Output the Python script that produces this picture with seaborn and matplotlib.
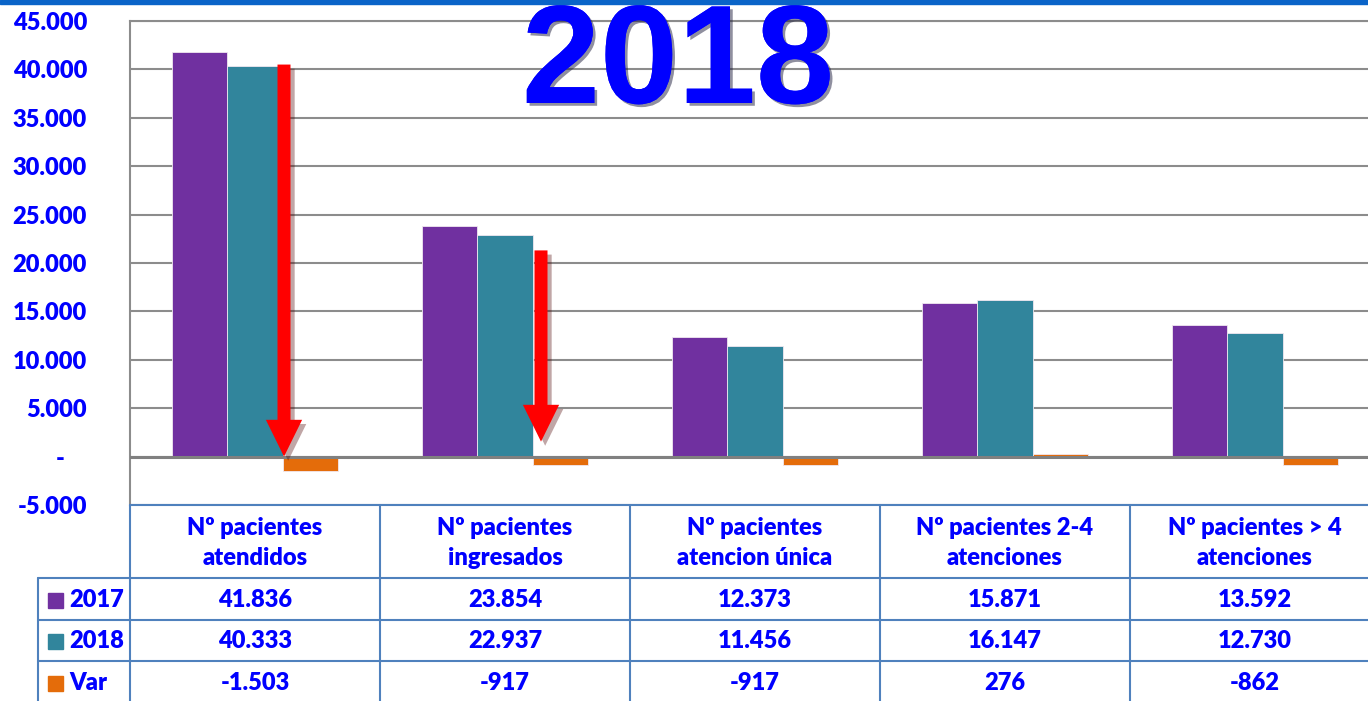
import pandas as pd
import matplotlib.pyplot as plt
import matplotlib.patheffects as pe
from matplotlib.lines import Line2D
from matplotlib.patches import Rectangle
import seaborn as sns

# Datos del gráfico
categorias = ['Nº pacientes\natendidos', 'Nº pacientes\ningresados',
              'Nº pacientes\natencion única', 'Nº pacientes 2-4\natenciones',
              'Nº pacientes > 4\natenciones']
series = ['2017', '2018', 'Var']
valores_2017 = [41836, 23854, 12373, 15871, 13592]
valores_2018 = [40333, 22937, 11456, 16147, 12730]
valores_var = [-1503, -917, -917, 276, -862]
colores = ['#7030A0', '#31859C', '#E46C0A']
ytick_vals = [-5000, 0, 5000, 10000, 15000, 20000, 25000, 30000, 35000, 40000, 45000]

df = pd.DataFrame({
    'categoria': categorias * 3,
    'serie': ['2017'] * 5 + ['2018'] * 5 + ['Var'] * 5,
    'valor': valores_2017 + valores_2018 + valores_var,
})

AZUL = '#0000FF'
BORDE = '#4F81BD'
PESO = 'heavy'
TAM = 17
W, H = 1368, 701


def fx(px):
    return px / W


def fy(py):
    return 1 - py / H


def fmt(v):
    return f'{v:,}'.replace(',', '.')


sns.set_theme(style='white')
plt.rcParams['font.family'] = ['Lato', 'DejaVu Sans']

fig = plt.figure(figsize=(W / 100, H / 100), dpi=100)
ax = fig.add_axes([fx(130), fy(505), (1380 - 130) / W, (505 - 21) / H])

sns.barplot(data=df, x='categoria', y='valor', hue='serie', order=categorias,
            hue_order=series, palette=colores, saturation=1, width=0.667, gap=0,
            edgecolor='#f0e8f0', linewidth=0.6, legend=False, ax=ax, zorder=3)

ax.set_xlim(-0.5, 4.5)
ax.set_ylim(-5000, 45000)
ax.set_yticks(ytick_vals)
ax.set_yticklabels([fmt(v) if v != 0 else '-    ' for v in ytick_vals])
ax.set_xlabel('')
ax.set_ylabel('')
ax.tick_params(axis='x', labelbottom=False, length=0)
ax.tick_params(axis='y', length=0, pad=31, labelsize=TAM, labelcolor=AZUL)
for lbl in ax.get_yticklabels():
    lbl.set_fontweight(PESO)

ax.yaxis.grid(True, color='#8c8c8c', lw=1.5)
ax.set_axisbelow(True)
for s in ['right', 'bottom']:
    ax.spines[s].set_visible(False)
for s in ['left', 'top']:
    ax.spines[s].set_color('#8c8c8c')
    ax.spines[s].set_linewidth(1.5)
ax.axhline(0, color='#808080', lw=2.2, zorder=4)

# Flechas rojas
sombra = [pe.withSimplePatchShadow(offset=(3, -3), alpha=0.35)]
flechas = [(0.116, 40500, 0), (1.144, 21300, 1550)]
for x, y0, y1 in flechas:
    ax.arrow(x, y0, 0, y1 - y0, width=0.052, head_width=0.145, head_length=3800,
             length_includes_head=True, color='#FF0000', ec='none', zorder=6,
             path_effects=sombra)

# Título
fig.text(fx(678), fy(103), '2018', ha='center', va='baseline', fontsize=101,
         fontweight='bold', family='Liberation Sans', color=AZUL, zorder=10,
         path_effects=[pe.withSimplePatchShadow(offset=(2, -2),
                                                shadow_rgbFace='#202040', alpha=0.5),
                       pe.Normal()])

# Barra azul superior
fig.add_artist(Rectangle((0, fy(4)), 1, 4 / H, transform=fig.transFigure,
                         color='#0A64C8', zorder=11))

# Tabla de datos
col_x = [130, 380, 630, 880, 1130, 1380]
filas_y = [578, 620, 661, 703]
for xv in col_x:
    fig.add_artist(Line2D([fx(xv), fx(xv)], [fy(505), fy(703)], color=BORDE, lw=1.5))
fig.add_artist(Line2D([fx(38), fx(38)], [fy(578), fy(703)], color=BORDE, lw=1.5))
fig.add_artist(Line2D([fx(130), fx(1380)], [fy(505), fy(505)], color=BORDE, lw=1.5))
for yv in filas_y[:-1]:
    fig.add_artist(Line2D([fx(38), fx(1380)], [fy(yv), fy(yv)], color=BORDE, lw=1.5))

for i, cat in enumerate(categorias):
    cx = fx((col_x[i] + col_x[i + 1]) / 2)
    fig.text(cx, fy(543), cat, ha='center', va='center', fontsize=TAM,
             fontweight=PESO, color=AZUL, linespacing=1.45)

for r, (serie, vals) in enumerate(zip(series, [valores_2017, valores_2018, valores_var])):
    cy = (filas_y[r] + (filas_y[r + 1] if r < 2 else 703)) / 2 + 1
    fig.add_artist(Rectangle((fx(48), fy(cy + 7.5)), 15 / W, 15 / H,
                             transform=fig.transFigure, color=colores[r]))
    fig.text(fx(69), fy(cy), serie, ha='left', va='center', fontsize=TAM,
             fontweight=PESO, color=AZUL)
    for i, v in enumerate(vals):
        cx = fx((col_x[i] + col_x[i + 1]) / 2)
        fig.text(cx, fy(cy), fmt(v), ha='center', va='center', fontsize=TAM,
                 fontweight=PESO, color=AZUL)

fig.savefig('out.png', dpi=100)
